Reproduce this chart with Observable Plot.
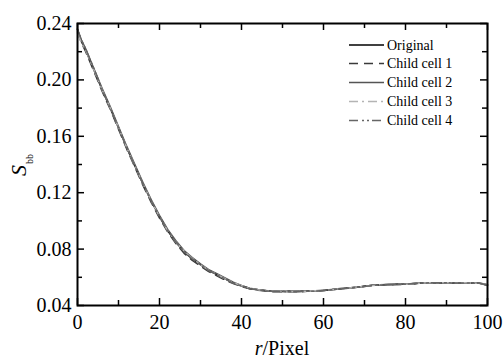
<!DOCTYPE html>
<html>
<head>
<meta charset="utf-8">
<script src="https://cdn.jsdelivr.net/npm/d3@7"></script>
<script src="https://cdn.jsdelivr.net/npm/@observablehq/plot@0.6"></script>
<style>
  html, body { margin: 0; padding: 0; background: #fff; }
  #chart { width: 503px; height: 361px; }
  #chart svg, #chart svg text { font-family: "Liberation Serif", serif; }
</style>
</head>
<body>
<div id="chart"></div>
<script>
const r = [0,1,2,3,4,5,6,8,10,12,14,16,18,20,22,24,26,28,30,32,34,36,38,40,42,44,46,48,50,52,54,56,58,60,62,64,66,68,70,72,74,76,78,80,82,84,86,88,90,92,94,96,98,99,100];

const original = [0.236,0.227,0.221,0.214,0.207,0.200,0.193,0.180,0.166,0.152,0.139,0.126,0.114,0.103,0.093,0.085,0.078,0.073,0.069,0.065,0.062,0.059,0.056,0.054,0.052,0.0512,0.0505,0.0502,0.0500,0.0501,0.0500,0.0502,0.0504,0.0507,0.0512,0.0518,0.0524,0.0530,0.0536,0.0543,0.0547,0.0549,0.0550,0.0551,0.0555,0.0560,0.0561,0.0561,0.0561,0.0561,0.0560,0.0560,0.0558,0.0553,0.0545];
const child1 = [0.234,0.226,0.220,0.213,0.206,0.199,0.192,0.179,0.165,0.151,0.138,0.125,0.113,0.102,0.092,0.084,0.077,0.072,0.068,0.064,0.061,0.058,0.0555,0.0535,0.0518,0.0508,0.0502,0.0497,0.0498,0.0500,0.0496,0.0501,0.0503,0.0506,0.0513,0.0517,0.0525,0.0528,0.0537,0.0541,0.0548,0.0546,0.0550,0.0549,0.0556,0.0558,0.0562,0.0560,0.0562,0.0559,0.0561,0.0558,0.0559,0.0551,0.0541];
const child2 = [0.235,0.228,0.222,0.215,0.208,0.201,0.194,0.181,0.167,0.153,0.140,0.127,0.115,0.104,0.094,0.086,0.079,0.074,0.0695,0.0655,0.0625,0.0595,0.0565,0.0543,0.0523,0.0514,0.0507,0.0504,0.0501,0.0503,0.0502,0.0503,0.0505,0.0509,0.0514,0.0520,0.0523,0.0532,0.0535,0.0545,0.0546,0.0551,0.0549,0.0553,0.0554,0.0561,0.0560,0.0562,0.0560,0.0562,0.0561,0.0561,0.0557,0.0555,0.0548];
const child3 = [0.233,0.226,0.221,0.214,0.207,0.200,0.193,0.180,0.166,0.152,0.139,0.126,0.114,0.103,0.093,0.085,0.0785,0.0735,0.069,0.065,0.062,0.059,0.0562,0.0541,0.0521,0.0511,0.0506,0.0501,0.0500,0.0502,0.0500,0.0502,0.0504,0.0507,0.0511,0.0519,0.0523,0.0531,0.0536,0.0542,0.0548,0.0549,0.0551,0.0551,0.0555,0.0560,0.0561,0.0562,0.0562,0.0561,0.0561,0.0560,0.0558,0.0554,0.0546];
const child4 = [0.236,0.228,0.222,0.215,0.208,0.201,0.193,0.180,0.166,0.152,0.139,0.126,0.114,0.103,0.093,0.085,0.078,0.073,0.0688,0.0648,0.0618,0.0588,0.0558,0.0538,0.0519,0.0510,0.0503,0.0499,0.0499,0.0497,0.0499,0.0501,0.0502,0.0506,0.0511,0.0517,0.0522,0.0529,0.0535,0.0542,0.0545,0.0548,0.0551,0.0550,0.0557,0.0559,0.0561,0.0561,0.0561,0.0560,0.0559,0.0559,0.0557,0.0552,0.0543];

const seriesNames = ["Original","Child cell 1","Child cell 2","Child cell 3","Child cell 4"];
const seriesValues = [original, child1, child2, child3, child4];

const xMajor = [0,20,40,60,80,100];
const xMinor = [10,30,50,70,90];
const yMajor = [0.04,0.08,0.12,0.16,0.20,0.24];
const yMinor = [0.06,0.10,0.14,0.18,0.22];

const styles = [
  {stroke: "#000000", dash: null, width: 1.5},
  {stroke: "#3a3a3a", dash: "9,6", width: 1.5},
  {stroke: "#555555", dash: null, width: 1.5},
  {stroke: "#b4b4b4", dash: "9,4,2,4", width: 1.5},
  {stroke: "#666666", dash: "9,4,2,3,2,3", width: 1.5}
];

const W = 503, H = 361;
const mL = 77, mR = 16, mT = 23, mB = 56;
const pw = W - mL - mR, ph = H - mT - mB;
const serif = "Liberation Serif, serif";

const data = seriesNames.map((name, i) => r.map((x, j) => ({series: name, r: x, v: seriesValues[i][j]})));

const lineMarks = data.map((d, i) => Plot.line(d, {
  x: "r", y: "v",
  stroke: styles[i].stroke,
  strokeWidth: styles[i].width,
  strokeDasharray: styles[i].dash,
  curve: "linear"
}));

const tickW = 1.5;
const chart = Plot.plot({
  width: W, height: H,
  marginLeft: mL, marginRight: mR, marginTop: mT, marginBottom: mB,
  style: {fontFamily: serif, fontSize: "20px", background: "#fff", color: "#000"},
  x: {domain: [0, 100]},
  y: {domain: [0.04, 0.24]},
  marks: [
    ...lineMarks,
    Plot.tickX(xMajor, {x: d => d, insetTop: ph - 7, stroke: "#000", strokeWidth: tickW}),
    Plot.tickX(xMinor, {x: d => d, insetTop: ph - 5, stroke: "#000", strokeWidth: tickW}),
    Plot.tickX(xMajor, {x: d => d, insetBottom: ph - 7, stroke: "#000", strokeWidth: tickW}),
    Plot.tickX(xMinor, {x: d => d, insetBottom: ph - 5, stroke: "#000", strokeWidth: tickW}),
    Plot.tickY(yMajor, {y: d => d, insetRight: pw - 7, stroke: "#000", strokeWidth: tickW}),
    Plot.tickY(yMinor, {y: d => d, insetRight: pw - 5, stroke: "#000", strokeWidth: tickW}),
    Plot.tickY(yMajor, {y: d => d, insetLeft: pw - 7, stroke: "#000", strokeWidth: tickW}),
    Plot.tickY(yMinor, {y: d => d, insetLeft: pw - 5, stroke: "#000", strokeWidth: tickW}),
    Plot.frame({stroke: "#000", strokeWidth: 2}),
    Plot.axisX({ticks: xMajor, tickSize: 0, tickPadding: 9, tickFormat: d => String(d), label: null, fontSize: 20}),
    Plot.axisY({ticks: yMajor, tickSize: 0, tickPadding: 6, tickFormat: d => d.toFixed(2), label: null, fontSize: 20})
  ]
});

document.getElementById("chart").appendChild(chart);

const svg = d3.select(chart);

// x title
const xt = svg.append("text")
  .attr("x", mL + pw / 2).attr("y", 355)
  .attr("text-anchor", "middle")
  .attr("font-family", serif).attr("font-size", 20).attr("fill", "#000");
xt.append("tspan").attr("font-style", "italic").text("r");
xt.append("tspan").text("/Pixel");

// y title
const yt = svg.append("text")
  .attr("transform", "translate(26,176) rotate(-90)")
  .attr("text-anchor", "start")
  .attr("font-family", serif).attr("fill", "#000");
yt.append("tspan").attr("font-style", "italic").attr("font-size", 22).text("S");
yt.append("tspan").attr("font-size", 10).attr("dy", 7).attr("dx", 1).text("bb");

// legend
const lg = svg.append("g").attr("text-anchor", "start");
const rowY = [45, 63.5, 82.5, 101.5, 120.5];
seriesNames.forEach((name, i) => {
  lg.append("line")
    .attr("x1", 349).attr("x2", 384)
    .attr("y1", rowY[i]).attr("y2", rowY[i])
    .attr("stroke", styles[i].stroke)
    .attr("stroke-width", styles[i].width)
    .attr("stroke-dasharray", styles[i].dash);
  lg.append("text")
    .attr("x", 387).attr("y", rowY[i] + 4.5)
    .attr("text-anchor", "start")
    .attr("font-family", serif).attr("font-size", 14).attr("fill", "#000")
    .text(name);
});
</script>
</body>
</html>
